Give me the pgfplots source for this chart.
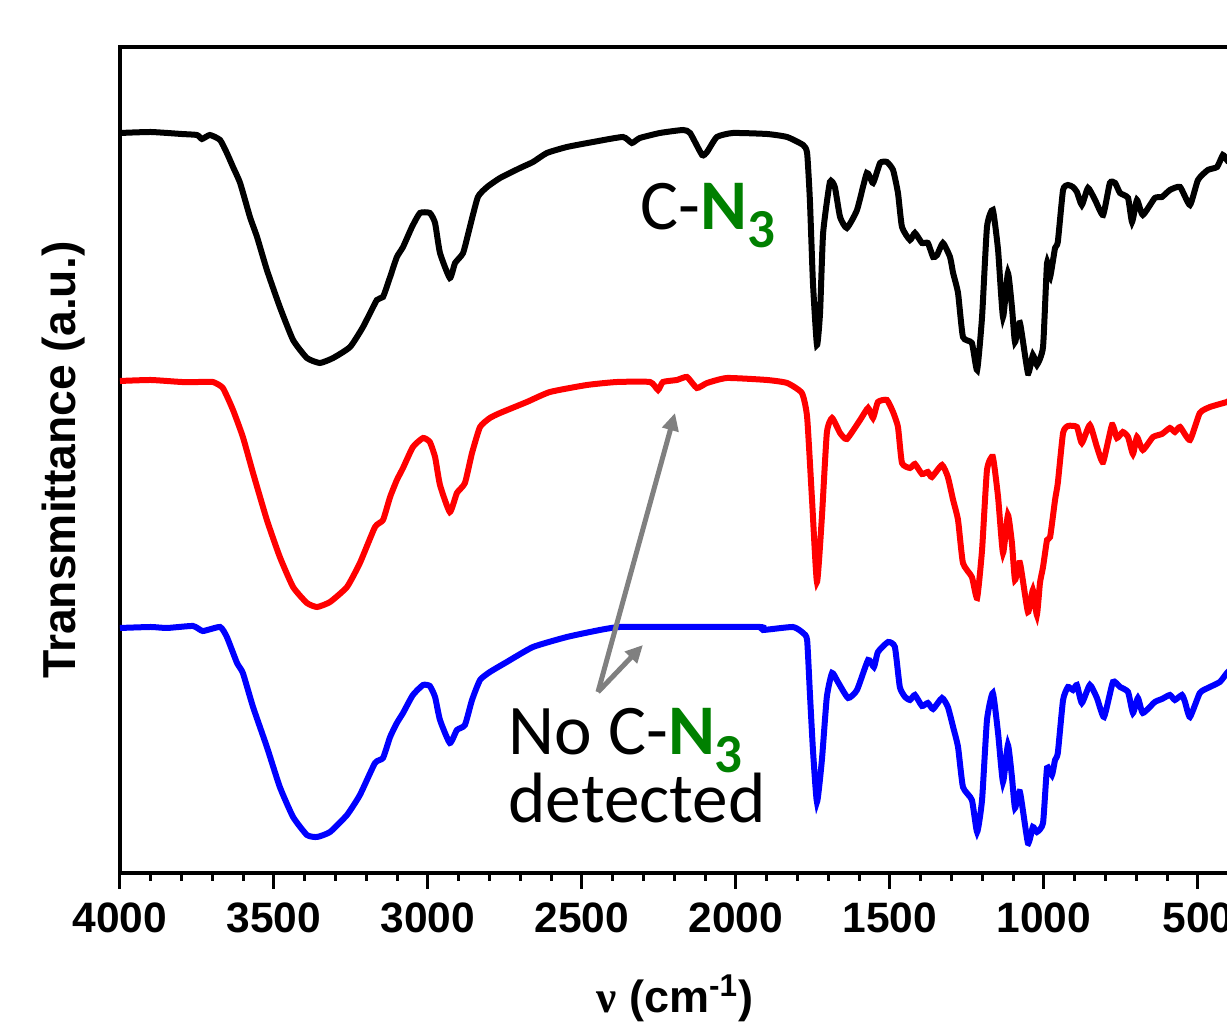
\documentclass[border=0pt]{standalone}
\usepackage{pgfplots}
\pgfplotsset{compat=1.18}
\usepackage{fontspec}
\setmainfont{Liberation Sans}
\newfontfamily\calib{Carlito}
\newfontfamily\serifnu{Liberation Serif}
\usetikzlibrary{calc,arrows.meta}
\definecolor{ngreen}{RGB}{0,128,0}
\definecolor{agray}{RGB}{128,128,128}

\begin{document}
\begin{tikzpicture}
\begin{axis}[
  scale only axis,
  width=444pt, height=330.4pt,
  x dir=reverse,
  xmin=396, xmax=4000, ymin=0, ymax=826,
  xtick={500,1000,...,4000},
  minor x tick num=4,
  xtick pos=bottom,
  tick align=outside,
  major tick length=6.4pt, minor tick length=3.2pt,
  every tick/.style={black, line width=1.2pt},
  ytick=\empty,
  axis line style={line width=1.6pt},
  ticklabel style={font=\fontsize{17}{17}\selectfont\bfseries},
  /pgf/number format/assume math mode=true,
  /pgf/number format/1000 sep={},
  xticklabel style={yshift=-2pt},
  xlabel={{\serifnu ν} (cm\textsuperscript{-1})},
  xlabel style={font=\fontsize{18}{18}\selectfont\bfseries, yshift=-10pt},
  ylabel={Transmittance (a.u.)},
  ylabel style={font=\fontsize{18.5}{18.5}\selectfont\bfseries, yshift=4pt},
  every axis plot/.append style={line width=2.4pt, smooth, tension=0.3},
]
% black: C-N3 sample
\addplot[black] coordinates {
(4000,740) (3900,741) (3800,739) (3750,738) (3734,734) (3708,738) (3675,733)
(3653,720) (3633,706) (3610,690) (3578,656) (3555,636) (3523,603) (3481,566)
(3438,533) (3393,515) (3351,510) (3308,515) (3253,526) (3211,546) (3166,573)
(3146,576) (3123,596) (3101,616) (3081,626) (3052,646) (3026,660) (2994,660)
(2977,650) (2961,620) (2929,595) (2912,610) (2886,620) (2864,646) (2838,676)
(2808,686) (2766,695) (2701,705) (2659,711) (2614,720) (2549,726) (2464,731)
(2367,736) (2338,730) (2312,735) (2247,740) (2172,743) (2149,740) (2110,718)
(2094,721) (2062,736) (2010,740) (1899,739) (1834,736) (1782,728) (1769,720)
(1760,673) (1750,590) (1737,528) (1727,560) (1717,640) (1695,691) (1679,686)
(1662,656) (1640,645) (1607,663) (1575,700) (1555,690) (1532,710) (1510,711)
(1490,703) (1474,680) (1461,646) (1435,633) (1419,640) (1396,630) (1377,630)
(1360,616) (1347,618) (1328,630) (1305,616) (1295,600) (1279,580) (1263,536)
(1234,530) (1217,503) (1201,556) (1185,646) (1166,663) (1149,623) (1133,556)
(1117,600) (1104,566) (1094,531) (1078,550) (1052,500) (1036,518) (1023,508)
(1003,526) (990,610) (980,596) (964,625) (955,631) (938,683) (922,688)
(906,686) (893,681) (877,668) (857,685) (834,673) (808,658) (786,690)
(769,690) (753,680) (727,675) (714,651) (698,673) (679,658) (640,675)
(617,676) (591,683) (558,686) (526,668) (500,693) (468,703) (438,706)
(419,718) (406,713) (396,716)
};
% red
\addplot[red] coordinates {
(4000,492) (3900,493) (3800,491) (3740,491) (3698,491) (3666,485) (3633,463)
(3601,436) (3568,400) (3523,353) (3481,316) (3438,286) (3393,270) (3360,266)
(3318,271) (3263,286) (3221,310) (3172,346) (3146,353) (3123,376) (3101,393)
(3081,405) (3049,426) (3016,435) (2994,431) (2977,416) (2961,388) (2929,361)
(2906,380) (2880,390) (2857,420) (2831,446) (2799,455) (2766,460) (2679,471)
(2604,481) (2484,488) (2386,491) (2279,491) (2253,483) (2237,491) (2192,493)
(2159,496) (2127,485) (2094,490) (2029,495) (1899,493) (1834,490) (1786,480)
(1769,456) (1753,373) (1737,291) (1721,356) (1705,440) (1688,455) (1662,440)
(1640,434) (1597,453) (1571,465) (1555,455) (1539,471) (1510,473) (1490,461)
(1474,446) (1461,410) (1435,405) (1419,409) (1396,399) (1377,401) (1364,396)
(1331,408) (1312,396) (1295,373) (1279,353) (1263,310) (1234,296) (1217,275)
(1201,323) (1185,403) (1166,416) (1149,376) (1133,320) (1117,358) (1104,330)
(1094,293) (1078,310) (1052,261) (1036,283) (1023,258) (1013,290) (1003,306)
(990,333) (980,336) (964,373) (955,390) (938,440) (922,447) (893,446)
(877,430) (851,448) (828,426) (808,411) (779,448) (763,435) (744,441)
(727,436) (711,419) (698,436) (679,423) (646,436) (617,439) (591,445)
(575,441) (558,446) (526,433) (494,460) (461,466) (406,471) (396,473)
};
% blue
\addplot[blue] coordinates {
(4000,245) (3900,246) (3847,245) (3763,247) (3731,242) (3675,246) (3653,236)
(3620,210) (3601,200) (3568,166) (3523,126) (3481,86) (3438,56) (3393,38)
(3360,36) (3318,41) (3263,58) (3221,78) (3172,110) (3146,115) (3123,136)
(3101,150) (3081,160) (3049,178) (3016,188) (2994,187) (2977,176) (2961,153)
(2929,130) (2906,143) (2880,148) (2857,173) (2831,193) (2799,201) (2744,211)
(2659,226) (2549,236) (2442,243) (2377,246) (2224,246) (1922,246) (1912,243)
(1815,246) (1782,240) (1769,233) (1760,180) (1750,123) (1737,71) (1721,113)
(1705,176) (1688,200) (1669,191) (1636,175) (1607,183) (1571,213) (1552,206)
(1539,221) (1506,231) (1484,226) (1468,186) (1451,176) (1435,173) (1419,178)
(1396,167) (1377,170) (1360,164) (1331,175) (1312,166) (1295,146) (1279,126)
(1263,86) (1234,73) (1217,41) (1201,73) (1185,153) (1166,180) (1149,140)
(1133,91) (1117,128) (1104,96) (1094,65) (1078,81) (1052,30) (1036,46)
(1023,41) (1003,50) (990,105) (974,98) (964,113) (955,120) (938,173)
(922,186) (906,183) (893,188) (877,170) (851,188) (828,175) (805,156)
(776,191) (753,186) (727,181) (711,160) (695,175) (679,160) (640,171)
(617,174) (591,178) (575,173) (552,178) (542,171) (526,156) (494,180)
(468,185) (429,191) (406,200) (396,203)
};
% annotations
\node[anchor=base west, inner sep=0pt, font=\calib\fontsize{28.5}{28.5}\selectfont]
  at (axis cs:2312,643) {C-\textcolor{ngreen}{\bfseries N\raisebox{-0.25em}{\fontsize{22}{22}\selectfont 3}}};
\node[anchor=base west, inner sep=0pt, font=\calib\fontsize{28.5}{28.5}\selectfont]
  at (axis cs:2740,118) {No C-\textcolor{ngreen}{\bfseries N\raisebox{-0.25em}{\fontsize{22}{22}\selectfont 3}}};
\node[anchor=base west, inner sep=0pt, font=\calib\fontsize{28.5}{28.5}\selectfont]
  at (axis cs:2740,50) {detected};
\draw[agray, line width=2pt, -{Triangle[length=7pt,width=6.5pt]}]
  (axis cs:2448,181) -- (axis cs:2198,460);
\draw[agray, line width=2pt, -{Triangle[length=7pt,width=6.5pt]}]
  (axis cs:2448,181) -- (axis cs:2302,228);
\end{axis}
\pgfresetboundingbox
\useasboundingbox ($(current axis.south west)+(-48pt,-61.6pt)$) rectangle ($(current axis.north east)+(-1.2pt,18.8pt)$);
\end{tikzpicture}
\end{document}
